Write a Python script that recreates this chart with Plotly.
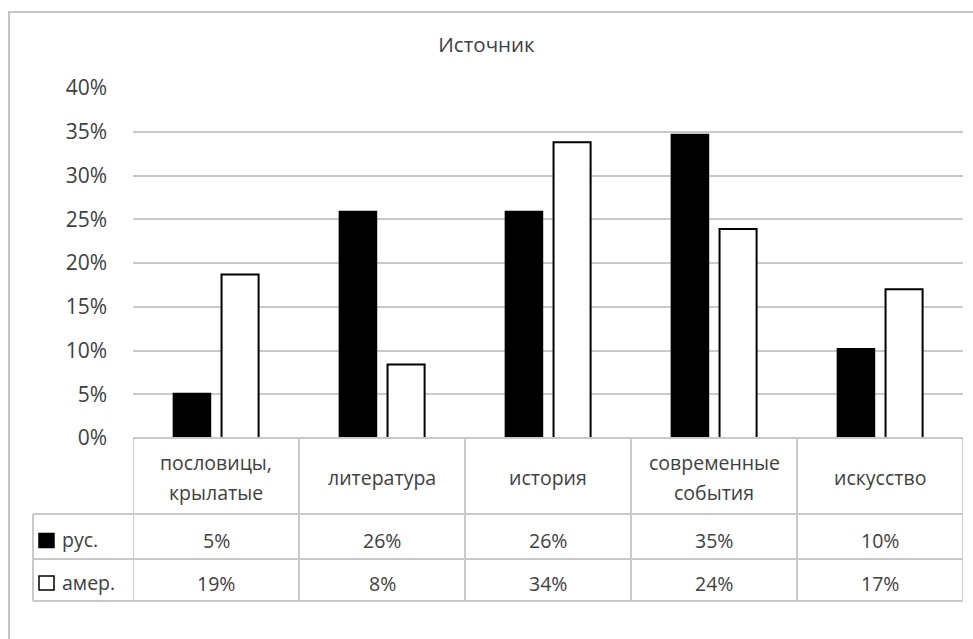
import plotly.graph_objects as go

# Source of quotations: Russian vs American respondents
categories = ["пословицы,<br>крылатые", "литература", "история", "современные<br>события", "искусство"]
rus_values = [0.051, 0.259, 0.259, 0.347, 0.102]
amer_values = [0.187, 0.084, 0.338, 0.239, 0.170]
series_names = ["рус.", "амер."]
y_ticks = [0, 0.05, 0.10, 0.15, 0.20, 0.25, 0.30, 0.35, 0.40]

W, H = 973, 639
FONT = "Open Sans"
TEXT = "#404040"
GRID = "#c9c9c9"
TABLE_SIZE = 19.5


def px_x(v):
    return v / W


def px_y(v):
    return 1 - v / H


# plot area in pixels
PL, PR, PT, PB = 133, 963, 88, 438
# table rows (pixels)
T_HEAD_BOT, T_ROW1_BOT, T_ROW2_BOT = 514, 559, 601
T_LEFT = 33

fig = go.Figure()
fig.add_trace(go.Bar(
    x=categories, y=rus_values, name=series_names[0],
    marker=dict(color="black", line=dict(color="black", width=1.5)),
))
fig.add_trace(go.Bar(
    x=categories, y=amer_values, name=series_names[1],
    marker=dict(color="white", line=dict(color="black", width=2)),
))

shapes = []
# outer chart border
shapes.append(dict(type="rect", xref="paper", yref="paper",
                   x0=px_x(9), x1=1.05, y0=-0.05, y1=px_y(12),
                   line=dict(color="#c4c4c4", width=2), layer="below"))

line_style = dict(color=GRID, width=2)
n = len(categories)
# vertical table lines at category boundaries
for i in range(n + 1):
    shapes.append(dict(type="line", xref="x", yref="paper",
                       x0=i - 0.5, x1=i - 0.5, y0=px_y(PB), y1=px_y(T_ROW2_BOT),
                       line=line_style))
# legend column left edge
shapes.append(dict(type="line", xref="paper", yref="paper",
                   x0=px_x(T_LEFT), x1=px_x(T_LEFT), y0=px_y(T_HEAD_BOT), y1=px_y(T_ROW2_BOT),
                   line=line_style))
# horizontal table lines
shapes.append(dict(type="line", xref="x", yref="paper",
                   x0=-0.5, x1=n - 0.5, y0=px_y(PB), y1=px_y(PB), line=line_style))
for yy in (T_HEAD_BOT, T_ROW1_BOT, T_ROW2_BOT):
    shapes.append(dict(type="line", xref="paper", yref="paper",
                       x0=px_x(T_LEFT), x1=px_x(PR), y0=px_y(yy), y1=px_y(yy),
                       line=line_style))

# legend keys inside the table
key_fill = ["black", "white"]
row_centers = [(T_HEAD_BOT + T_ROW1_BOT) / 2 + 4, (T_ROW1_BOT + T_ROW2_BOT) / 2 + 3]
for k, rc in enumerate(row_centers):
    shapes.append(dict(type="rect", xref="paper", yref="paper",
                       x0=px_x(39), x1=px_x(54), y0=px_y(rc + 7), y1=px_y(rc - 7),
                       fillcolor=key_fill[k], line=dict(color="black", width=1.5)))

annotations = []
head_center = (PB + T_HEAD_BOT) / 2 + 1
LINE_GAP = 30
for c in categories:
    lines = c.split("<br>")
    for j, line in enumerate(lines):
        offset = (j - (len(lines) - 1) / 2) * LINE_GAP
        annotations.append(dict(x=c, xref="x", y=px_y(head_center + offset), yref="paper",
                                text=line, showarrow=False, xanchor="center", yanchor="middle",
                                font=dict(family=FONT, size=TABLE_SIZE, color=TEXT)))
for vals, rc, name in zip((rus_values, amer_values), row_centers, series_names):
    annotations.append(dict(x=px_x(60), xref="paper", y=px_y(rc - 1), yref="paper",
                            text=name, showarrow=False, xanchor="left", yanchor="middle",
                            font=dict(family=FONT, size=TABLE_SIZE, color=TEXT)))
    for c, v in zip(categories, vals):
        annotations.append(dict(x=c, xref="x", y=px_y(rc), yref="paper",
                                text=f"{v:.0%}", showarrow=False,
                                xanchor="center", yanchor="middle",
                                font=dict(family=FONT, size=TABLE_SIZE, color=TEXT)))

fig.update_layout(
    width=W, height=H, autosize=False,
    margin=dict(l=0, r=0, t=0, b=0, pad=0, autoexpand=False),
    paper_bgcolor="white", plot_bgcolor="white",
    barmode="group", bargap=0.42, bargroupgap=0.23,
    showlegend=False,
    title=dict(text="Источник", x=0.5, xref="paper", xanchor="center",
               y=px_y(45), yref="paper", yanchor="middle", automargin=False,
               font=dict(family=FONT, size=20.5, color=TEXT)),
    xaxis=dict(domain=[px_x(PL), px_x(PR)], range=[-0.5, n - 0.5],
               showticklabels=False, showgrid=False, zeroline=False,
               showline=False, ticks="", automargin=False, fixedrange=True),
    yaxis=dict(domain=[px_y(PB), px_y(PT)], range=[0, 0.4],
               tickvals=y_ticks, tickformat=".0%",
               showgrid=True, gridcolor=GRID, gridwidth=2,
               zeroline=False, showline=False, ticks="",
               ticklabelstandoff=25, automargin=False,
               tickfont=dict(family=FONT, size=21, color=TEXT), fixedrange=True),
    shapes=shapes,
    annotations=annotations,
)

fig.write_html("out.html")
